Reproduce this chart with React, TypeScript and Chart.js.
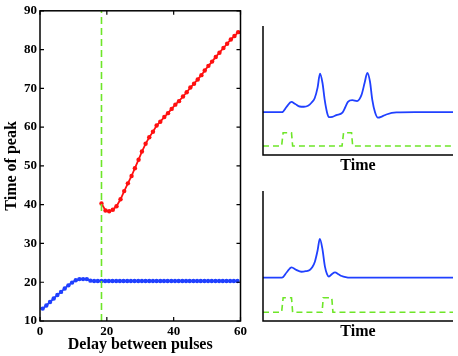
import React, { useEffect, useRef } from "react";
import { Chart, registerables } from "chart.js";

Chart.register(...registerables);

const FONT = '"Liberation Serif", "Times New Roman", serif';

// ---- Main chart data ----
const blueDelay = [0.8, 1.9, 3.0, 4.1, 5.2, 6.3, 7.4, 8.5, 9.6, 10.7, 11.8, 12.9, 14.0, 15.1, 16.2, 17.3, 18.4, 19.5, 20.6, 21.7, 22.8, 23.9, 25.0, 26.1, 27.2, 28.3, 29.4, 30.5, 31.6, 32.7, 33.8, 34.9, 36.0, 37.1, 38.2, 39.3, 40.4, 41.5, 42.6, 43.7, 44.8, 45.9, 47.0, 48.1, 49.2, 50.3, 51.4, 52.5, 53.6, 54.7, 55.8, 56.9, 58.0, 59.1];
const blueTime = [13.2, 14.0, 14.9, 15.8, 16.7, 17.5, 18.4, 19.2, 19.9, 20.5, 20.8, 20.8, 20.8, 20.4, 20.3, 20.3, 20.3, 20.3, 20.3, 20.3, 20.3, 20.3, 20.3, 20.3, 20.3, 20.3, 20.3, 20.3, 20.3, 20.3, 20.3, 20.3, 20.3, 20.3, 20.3, 20.3, 20.3, 20.3, 20.3, 20.3, 20.3, 20.3, 20.3, 20.3, 20.3, 20.3, 20.3, 20.3, 20.3, 20.3, 20.3, 20.3, 20.3, 20.3];

const redDelay = [18.4, 19.6, 20.7, 21.8, 22.9, 24.1, 25.2, 26.3, 27.4, 28.4, 29.5, 30.5, 31.6, 32.7, 33.8, 34.9, 36.0, 37.2, 38.3, 39.4, 40.5, 41.6, 42.8, 43.9, 45.0, 46.1, 47.2, 48.3, 49.3, 50.4, 51.5, 52.6, 53.7, 54.9, 56.0, 57.1, 58.2, 59.3];
const redTime = [40.3, 38.5, 38.3, 38.7, 39.6, 41.4, 43.5, 45.5, 47.4, 49.4, 51.6, 53.7, 55.7, 57.4, 58.8, 60.4, 61.4, 62.6, 63.6, 64.7, 65.8, 66.7, 67.9, 69.0, 70.2, 71.2, 72.3, 73.4, 74.6, 75.8, 76.9, 78.1, 79.2, 80.4, 81.5, 82.6, 83.5, 84.5];

const thresholdDelay = 18.4;
const xMin = 0, xMax = 60, xStep = 20;
const yMin = 10, yMax = 90, yStep = 10;

// ---- Inset (top): two pulses, two peaks ----
const topTraceT = [0, 10, 12.5, 14.9, 17, 19.3, 21.5, 23.7, 25.5, 27.2, 28.7, 30.0, 31.3, 32.5, 33.7, 34.7, 36.5, 38.6, 41.8, 43.3, 44.7, 47.0, 49.5, 51.8, 53.5, 54.9, 56.3, 57.5, 59.0, 60.5, 62.5, 64.9, 70.2, 80, 100];
const topTraceV = [33.2, 33.2, 37.5, 41.2, 39.5, 37.6, 37.4, 38.2, 40.5, 44.0, 52.0, 63.0, 56.0, 42.5, 33.0, 29.3, 29.6, 30.9, 32.8, 37.0, 41.2, 42.5, 41.8, 46.4, 56.0, 63.7, 57.0, 43.0, 33.0, 29.0, 29.8, 31.4, 33.0, 33.2, 33.2];
const topPulseT = [0, 9.8, 10.6, 15.0, 15.6, 41.6, 42.4, 46.6, 47.2, 100];
const topPulseV = [7.0, 7.0, 17.3, 17.3, 7.0, 7.0, 17.3, 17.3, 7.0, 7.0];

// ---- Inset (bottom): two pulses, one peak ----
const botTraceT = [0, 10, 12.5, 15.0, 17.5, 20.2, 22.5, 24.6, 26.0, 27.3, 28.7, 29.9, 31.2, 32.6, 33.7, 34.7, 36.3, 37.9, 39.7, 41.4, 43.5, 45.8, 60, 80, 100];
const botTraceV = [33.3, 33.3, 37.5, 41.3, 39.3, 37.9, 38.3, 39.2, 41.5, 45.6, 54.0, 63.1, 56.0, 41.8, 36.0, 34.1, 36.2, 37.4, 36.0, 34.6, 33.7, 33.3, 33.3, 33.4, 33.3];
const botPulseT = [0, 9.8, 10.6, 15.0, 15.6, 31.1, 31.7, 36.2, 36.8, 100];
const botPulseV = [6.7, 6.7, 17.9, 17.9, 6.7, 6.7, 17.9, 17.9, 6.7, 6.7];

const RED = "#ff1010";
const BLUE = "#2040ff";
const GREEN = "rgb(110,230,40)";

const zip = (xs: number[], ys: number[]) => xs.map((x, i) => ({ x, y: ys[i] }));

const framePlugin = {
  id: "frame",
  afterDatasetsDraw(chart: any) {
    const { ctx, chartArea: a, scales } = chart;
    ctx.save();
    ctx.strokeStyle = "#000";
    ctx.lineWidth = 1.5;
    ctx.strokeRect(a.left, a.top, a.right - a.left, a.bottom - a.top);
    ctx.lineWidth = 1.2;
    const tl = 4;
    ctx.beginPath();
    scales.x.ticks.forEach((t: any) => {
      const p = scales.x.getPixelForValue(t.value);
      ctx.moveTo(p, a.bottom); ctx.lineTo(p, a.bottom - tl);
      ctx.moveTo(p, a.top); ctx.lineTo(p, a.top + tl);
    });
    scales.y.ticks.forEach((t: any) => {
      const p = scales.y.getPixelForValue(t.value);
      ctx.moveTo(a.left, p); ctx.lineTo(a.left + tl, p);
      ctx.moveTo(a.right, p); ctx.lineTo(a.right - tl, p);
    });
    ctx.stroke();
    ctx.restore();
  },
};

const insetAxesPlugin = {
  id: "insetAxes",
  afterDatasetsDraw(chart: any) {
    const { ctx, chartArea: a } = chart;
    ctx.save();
    ctx.strokeStyle = "#000";
    ctx.lineWidth = 1.5;
    ctx.beginPath();
    ctx.moveTo(a.left, a.top);
    ctx.lineTo(a.left, a.bottom);
    ctx.lineTo(a.right, a.bottom);
    ctx.stroke();
    ctx.restore();
  },
};

function MainChart() {
  const ref = useRef<HTMLCanvasElement>(null);
  useEffect(() => {
    const chart = new Chart(ref.current!, {
      type: "line",
      data: {
        datasets: [
          {
            data: [{ x: thresholdDelay, y: yMin }, { x: thresholdDelay, y: yMax }],
            borderColor: GREEN,
            borderWidth: 1.6,
            borderDash: [7, 4],
            pointRadius: 0,
            order: 0,
          },
          {
            data: zip(redDelay, redTime),
            borderColor: RED,
            backgroundColor: RED,
            borderWidth: 1.8,
            pointRadius: 2.2,
            pointBorderWidth: 0,
            order: 1,
          },
          {
            data: zip(blueDelay, blueTime),
            borderColor: BLUE,
            backgroundColor: BLUE,
            borderWidth: 1.8,
            pointRadius: 2.2,
            pointBorderWidth: 0,
            order: 2,
          },
        ],
      },
      options: {
        animation: false,
        responsive: false,
        events: [],
        layout: { padding: { top: 10, right: 9, left: 0, bottom: 0 } },
        plugins: { legend: { display: false }, tooltip: { enabled: false } },
        scales: {
          x: {
            type: "linear",
            min: xMin,
            max: xMax,
            grid: { display: false, drawTicks: false, tickLength: 0 },
            border: { display: false },
            ticks: { stepSize: xStep, padding: 3, color: "#000", font: { family: FONT, size: 13, weight: "bold" } },
            title: { display: true, text: "Delay between pulses", color: "#000", padding: { top: 0, bottom: 2 }, font: { family: FONT, size: 16, weight: "bold" } },
            afterFit: (s: any) => { s.height = 35; },
          },
          y: {
            type: "linear",
            min: yMin,
            max: yMax,
            grid: { display: false, drawTicks: false, tickLength: 0 },
            border: { display: false },
            ticks: { stepSize: yStep, padding: 3, color: "#000", font: { family: FONT, size: 13, weight: "bold" } },
            title: { display: true, text: "Time of peak", color: "#000", padding: { top: 2, bottom: 0 }, font: { family: FONT, size: 16, weight: "bold" } },
            afterFit: (s: any) => { s.width = 40; },
          },
        },
      } as any,
      plugins: [framePlugin],
    });
    return () => chart.destroy();
  }, []);
  return <canvas ref={ref} width={250} height={356} style={{ position: "absolute", left: 0, top: 0, width: 250, height: 356 }} />;
}

function Inset(props: { top: number; height: number; padTop: number; axisH: number; titlePad: number; traceT: number[]; traceV: number[]; pulseT: number[]; pulseV: number[] }) {
  const ref = useRef<HTMLCanvasElement>(null);
  useEffect(() => {
    const chart = new Chart(ref.current!, {
      type: "line",
      data: {
        datasets: [
          {
            data: zip(props.traceT, props.traceV),
            borderColor: BLUE,
            borderWidth: 1.8,
            pointRadius: 0,
            cubicInterpolationMode: "monotone",
          },
          {
            data: zip(props.pulseT, props.pulseV),
            borderColor: GREEN,
            borderWidth: 1.6,
            borderDash: [6, 4],
            pointRadius: 0,
            tension: 0,
          },
        ],
      },
      options: {
        animation: false,
        responsive: false,
        events: [],
        layout: { padding: { top: props.padTop, right: 5, left: 13, bottom: 0 } },
        plugins: { legend: { display: false }, tooltip: { enabled: false } },
        scales: {
          x: {
            type: "linear",
            min: 0,
            max: 100,
            grid: { display: false, drawTicks: false },
            border: { display: false },
            ticks: { display: false },
            title: { display: true, text: "Time", color: "#000", padding: { top: 0, bottom: props.titlePad }, font: { family: FONT, size: 16, weight: "bold" } },
            afterFit: (s: any) => { s.height = props.axisH; },
          },
          y: { type: "linear", min: 0, max: 100, display: false },
        },
      } as any,
      plugins: [insetAxesPlugin],
    });
    return () => chart.destroy();
  }, []);
  return <canvas ref={ref} width={208} height={props.height} style={{ position: "absolute", left: 250, top: props.top, width: 208, height: props.height }} />;
}

export default function App() {
  return (
    <div style={{ position: "fixed", left: 0, top: 0, width: 458, height: 356, background: "#fff", overflow: "hidden" }}>
      <MainChart />
      <Inset top={0} height={180} padTop={26} axisH={25} titlePad={5} traceT={topTraceT} traceV={topTraceV} pulseT={topPulseT} pulseV={topPulseV} />
      <Inset top={180} height={176} padTop={11} axisH={35} titlePad={15} traceT={botTraceT} traceV={botTraceV} pulseT={botPulseT} pulseV={botPulseV} />
    </div>
  );
}
